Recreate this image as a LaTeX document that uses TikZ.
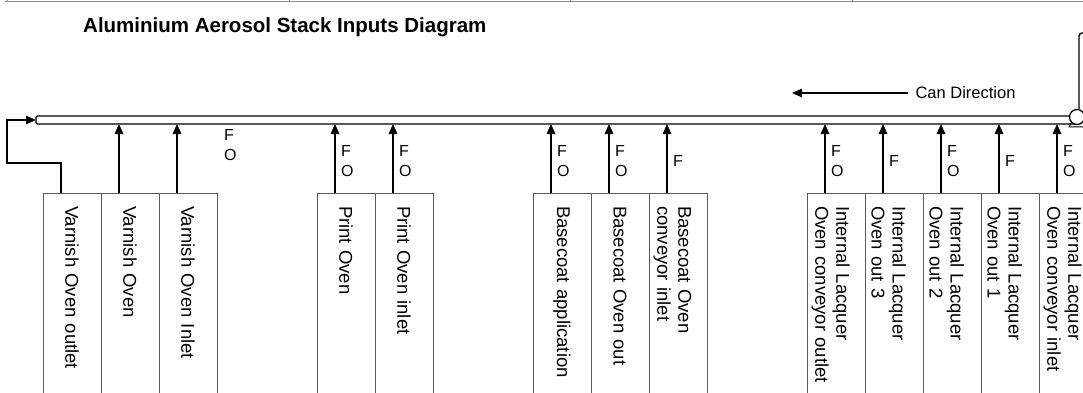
\documentclass[tikz,border=0pt]{standalone}
\usepackage{fontspec}
\setmainfont{Liberation Sans}
\usetikzlibrary{arrows.meta,positioning,calc}
\definecolor{BoxGray}{HTML}{5A5A5A}
\definecolor{RuleGray}{HTML}{8C8C8C}

\begin{document}
\begin{tikzpicture}[
    x=1pt, y=1pt,
    unit/.style={draw=BoxGray, line width=0.9pt, rotate=-90, anchor=south west, outer sep=0pt, minimum width=240pt, minimum height=58pt, inner xsep=13pt, text width=214pt, align=left, font=\fontsize{18.5}{21}\selectfont},
    pair/.style={unit, text height=24pt},
    belt/.style={draw, line width=1.3pt, fill=white, rounded corners=1.5pt, minimum height=8pt, minimum width=1040pt, outer sep=0pt, anchor=west},
    flag/.style={anchor=west, inner sep=0pt, align=left, font=\fontsize{16}{20}\selectfont},
    feed/.style={-{Triangle[length=10pt,width=8.5pt]}, line width=1.5pt},
    pipe/.style={line width=1.4pt, rounded corners=3pt}
]
\clip (0,0) rectangle (1083,-393);
\draw[RuleGray, line width=1.2pt] (5,-1.5) -- (1083,-1.5);
\foreach \x in {7,289,570,852}{\draw[RuleGray, line width=0.8pt] (\x,-1.5) -- (\x,0);}

\node[anchor=base west, inner sep=0pt, font=\bfseries\fontsize{20.5}{24}\selectfont] (title) at (83,-33) {Aluminium Aerosol Stack Inputs Diagram};

% conveyor and pump
\node[belt] (conv) at (36,-120) {};
\node[draw, circle, line width=1.3pt, fill=white, minimum size=15pt, inner sep=0pt] (pump) at (1077,-117) {};
\draw[line width=1pt] (pump.south west) -- ++(-2,-4) -- ++(18,0);
\coordinate (stacktop) at (1095,-33);
\draw[pipe] ([xshift=2pt]pump.north) |- (stacktop);

\node[anchor=west, font=\fontsize{16.5}{20}\selectfont] (candir) at (912,-93) {Can Direction};
\coordinate (canhead) at (792,-93);
\draw[feed] ([xshift=-4pt]candir.west) -- (canhead);

% varnish
\node[unit] (vout) at (43,-193) {Varnish Oven outlet};
\node[unit] (voven) at (vout.north west) {Varnish Oven};
\node[unit] (vin) at (voven.north west) {Varnish Oven Inlet};
% print
\node[unit] (poven) at (317,-193) {Print Oven};
\node[unit] (pin) at (poven.north west) {Print Oven inlet};
% basecoat
\node[unit] (bapp) at (533,-193) {Basecoat application};
\node[unit] (bout) at (bapp.north west) {Basecoat Oven out};
\node[pair] (bin) at (bout.north west) {Basecoat Oven\\conveyor inlet};
% internal lacquer
\node[pair] (lout) at (807,-193) {Internal Lacquer\\Oven conveyor outlet};
\node[pair] (l3) at (lout.north west) {Internal Lacquer\\Oven out 3};
\node[pair] (l2) at (l3.north west) {Internal Lacquer\\Oven out 2};
\node[pair] (l1) at (l2.north west) {Internal Lacquer\\Oven out 1};
\node[pair] (lin) at (l1.north west) {Internal Lacquer\\Oven conveyor inlet};

\foreach \b/\t in {voven/{}, vin/{}, poven/{F\\O}, pin/{F\\O}, bapp/{F\\O}, bout/{F\\O}, bin/{F}, lout/{F\\O}, l3/{F}, l2/{F\\O}, l1/{F}, lin/{F\\O}}{
  \coordinate (\b-in) at ([xshift=-11pt]\b.west);
  \draw[feed] (\b-in) -- (\b-in |- conv.south);
  \node[flag] (\b-f) at ([xshift=6pt]\b-in |- 0,-161) {\t};
}

% outlet returns to the start of the line
\coordinate (vout-in) at ([xshift=-11pt]vout.west);
\coordinate (loop) at (7,-163);
\draw[feed] (vout-in) |- (loop) |- (conv.west);
\node[flag] (vout-f) at (224,-145) {F\\O};
\end{tikzpicture}
\end{document}
